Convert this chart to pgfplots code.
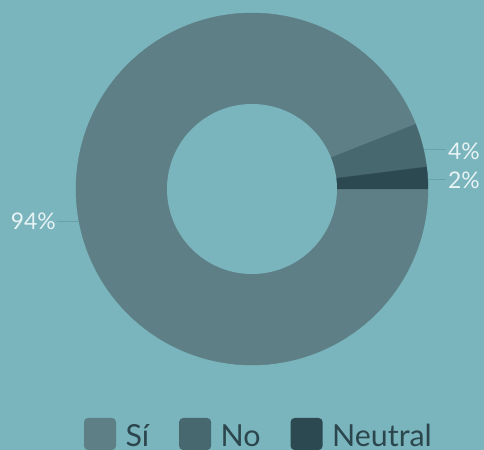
\documentclass[border=0pt]{standalone}
\usepackage{pgfplots}
\pgfplotsset{compat=1.18}
\usepackage{pgfplotstable}
\usepackage{fontspec}
\setmainfont{Lato}
\definecolor{bg}{RGB}{122,181,189}
\definecolor{cSi}{RGB}{94,127,134}
\definecolor{cNo}{RGB}{72,104,111}
\definecolor{cNe}{RGB}{44,72,80}
\definecolor{lbl}{RGB}{232,243,245}
\definecolor{lead}{RGB}{108,160,168}
\definecolor{legtxt}{RGB}{44,70,78}

\pgfplotstableread{
label value
Si 94
No 4
Neutral 2
}\piedata

\begin{document}
\begin{tikzpicture}
\fill[bg] (0,0) rectangle (484bp,450bp);
\pgfplotstablegetelem{0}{value}\of\piedata \pgfmathsetmacro\va{\pgfplotsretval}
\pgfplotstablegetelem{1}{value}\of\piedata \pgfmathsetmacro\vb{\pgfplotsretval}
\pgfplotstablegetelem{2}{value}\of\piedata \pgfmathsetmacro\vc{\pgfplotsretval}
\pgfmathsetmacro\aA{-3.6*\va}
\pgfmathsetmacro\aB{\aA-3.6*\vb}
\pgfmathsetmacro\aC{\aB-3.6*\vc}
\begin{axis}[
  at={(0,0)}, anchor=south west,
  x=1bp, y=1bp, xmin=0, xmax=484, ymin=0, ymax=450,
  hide axis, clip=false,
  legend image code/.code={\fill[#1, draw=none, rounded corners=4bp] (0bp,-14bp) rectangle (32bp,18bp);},
  legend style={at={(84bp,0bp)}, anchor=south west, draw=none, fill=none,
    legend columns=-1, font=\fontsize{30.5}{31}\selectfont\color{legtxt},
    inner sep=0pt, outer sep=0pt,
    nodes={inner sep=0pt},
    column sep=9.5bp,
    /tikz/every even column/.append style={column sep=30bp}},
]
\addplot[fill=cSi, draw=cSi, line width=0.4bp, domain=\aA:0, samples=300] ({252+176*cos(x)},{261+176*sin(x)}) -- (252,261) -- cycle;
\addlegendentry{Sí}
\addplot[fill=cNo, draw=cNo, line width=0.4bp, domain=\aB:\aA, samples=40] ({252+176*cos(x)},{261+176*sin(x)}) -- (252,261) -- cycle;
\addlegendentry{No}
\addplot[fill=cNe, draw=cNe, line width=0.4bp, domain=\aC:\aB, samples=30] ({252+176*cos(x)},{261+176*sin(x)}) -- (252,261) -- cycle;
\addlegendentry{Neutral}
\addplot[fill=bg, draw=none, domain=0:360, samples=300, forget plot] ({252+85*cos(x)},{261+85*sin(x)}) -- cycle;
% leader lines
\addplot[lead, line width=1bp, forget plot] coordinates {(79.1,228.3) (57,228.3)};
\addplot[lead, line width=1bp, forget plot] coordinates {(423.5,300.7) (446,300.7)};
\addplot[lead, line width=1bp, forget plot] coordinates {(427.7,270.7) (446,270.7)};
% labels
\node[anchor=base east, inner sep=0pt, text=lbl, font=\fontsize{23}{24}\selectfont] at (axis cs:56,220.7) {94\%};
\node[anchor=base west, inner sep=0pt, text=lbl, font=\fontsize{23}{24}\selectfont] at (axis cs:448,290.7) {4\%};
\node[anchor=base west, inner sep=0pt, text=lbl, font=\fontsize{23}{24}\selectfont] at (axis cs:448,261.7) {2\%};
\end{axis}
\pgfresetboundingbox
\useasboundingbox (0,0) rectangle (484bp,450bp);
\end{tikzpicture}
\end{document}
